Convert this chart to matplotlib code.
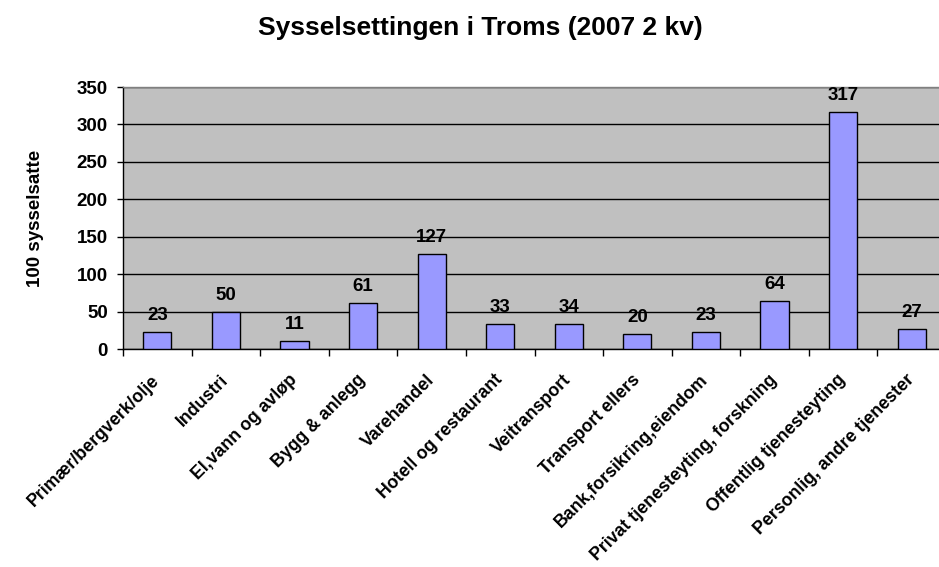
import matplotlib
matplotlib.use("Agg")
import matplotlib.pyplot as plt

categories = ["Primær/bergverk/olje", "Industri", "El,vann og avløp", "Bygg & anlegg",
              "Varehandel", "Hotell og restaurant", "Veitransport", "Transport ellers",
              "Bank,forsikring,eiendom", "Privat tjenesteyting, forskning",
              "Offentlig tjenesteyting", "Personlig, andre tjenester"]
values = [23, 50, 11, 61, 127, 33, 34, 20, 23, 64, 317, 27]
yticks = [0, 50, 100, 150, 200, 250, 300, 350]

plt.rcParams['font.family'] = ['Liberation Sans', 'DejaVu Sans']
W, H = 939, 567
fig = plt.figure(figsize=(W / 100, H / 100), dpi=100)
L, T, B, R = 123, 87, 349, 946
ax = fig.add_axes([L / W, 1 - B / H, (R - L) / W, (B - T) / H])
ax.set_facecolor('#C0C0C0')
x = list(range(len(categories)))
ax.bar(x, values, width=0.41, color='#9999FF', edgecolor='black', linewidth=1.0, zorder=3)
ax.set_xlim(-0.5, len(categories) - 0.5)
ax.set_ylim(0, 350)
ax.set_yticks(yticks)
ax.set_yticklabels([str(v) for v in yticks], fontsize=13.5, fontweight='bold')
ax.yaxis.grid(True, color='black', linewidth=1.0, zorder=1)
ax.set_axisbelow(True)
ax.set_xticks([i - 0.5 for i in range(len(categories) + 1)], minor=False)
ax.set_xticklabels([])
ax.tick_params(axis='x', length=5, width=1, direction='out')
ax.tick_params(axis='y', length=4, width=1, direction='out', pad=7)
ax.set_xticks(x, minor=True)
ax.set_xticklabels(categories, minor=True, rotation=45, ha='right', va='center',
                   rotation_mode='anchor', fontsize=12.8, fontweight='bold')
ax.tick_params(axis='x', which='minor', length=0, pad=20.5)
for s in ['left', 'bottom']:
    ax.spines[s].set_color('black')
    ax.spines[s].set_linewidth(1.0)
for s in ['top', 'right']:
    ax.spines[s].set_color('#808080')
    ax.spines[s].set_linewidth(1.0)
for xi, v in zip(x, values):
    ax.annotate(str(v), (xi, v), xytext=(0, 8.6), textcoords='offset points',
                ha='center', va='baseline', fontsize=13.5, fontweight='bold', zorder=4)
fig.text(35.5 / W, 1 - 218 / H, "100 sysselsatte", rotation=90, ha='center', va='center',
         fontsize=13.5, fontweight='bold')
fig.text(480 / W, 1 - 35 / H, "Sysselsettingen i Troms (2007 2 kv)", ha='center', va='baseline',
         fontsize=19, fontweight='bold')
fig.savefig("out.png", dpi=100)
